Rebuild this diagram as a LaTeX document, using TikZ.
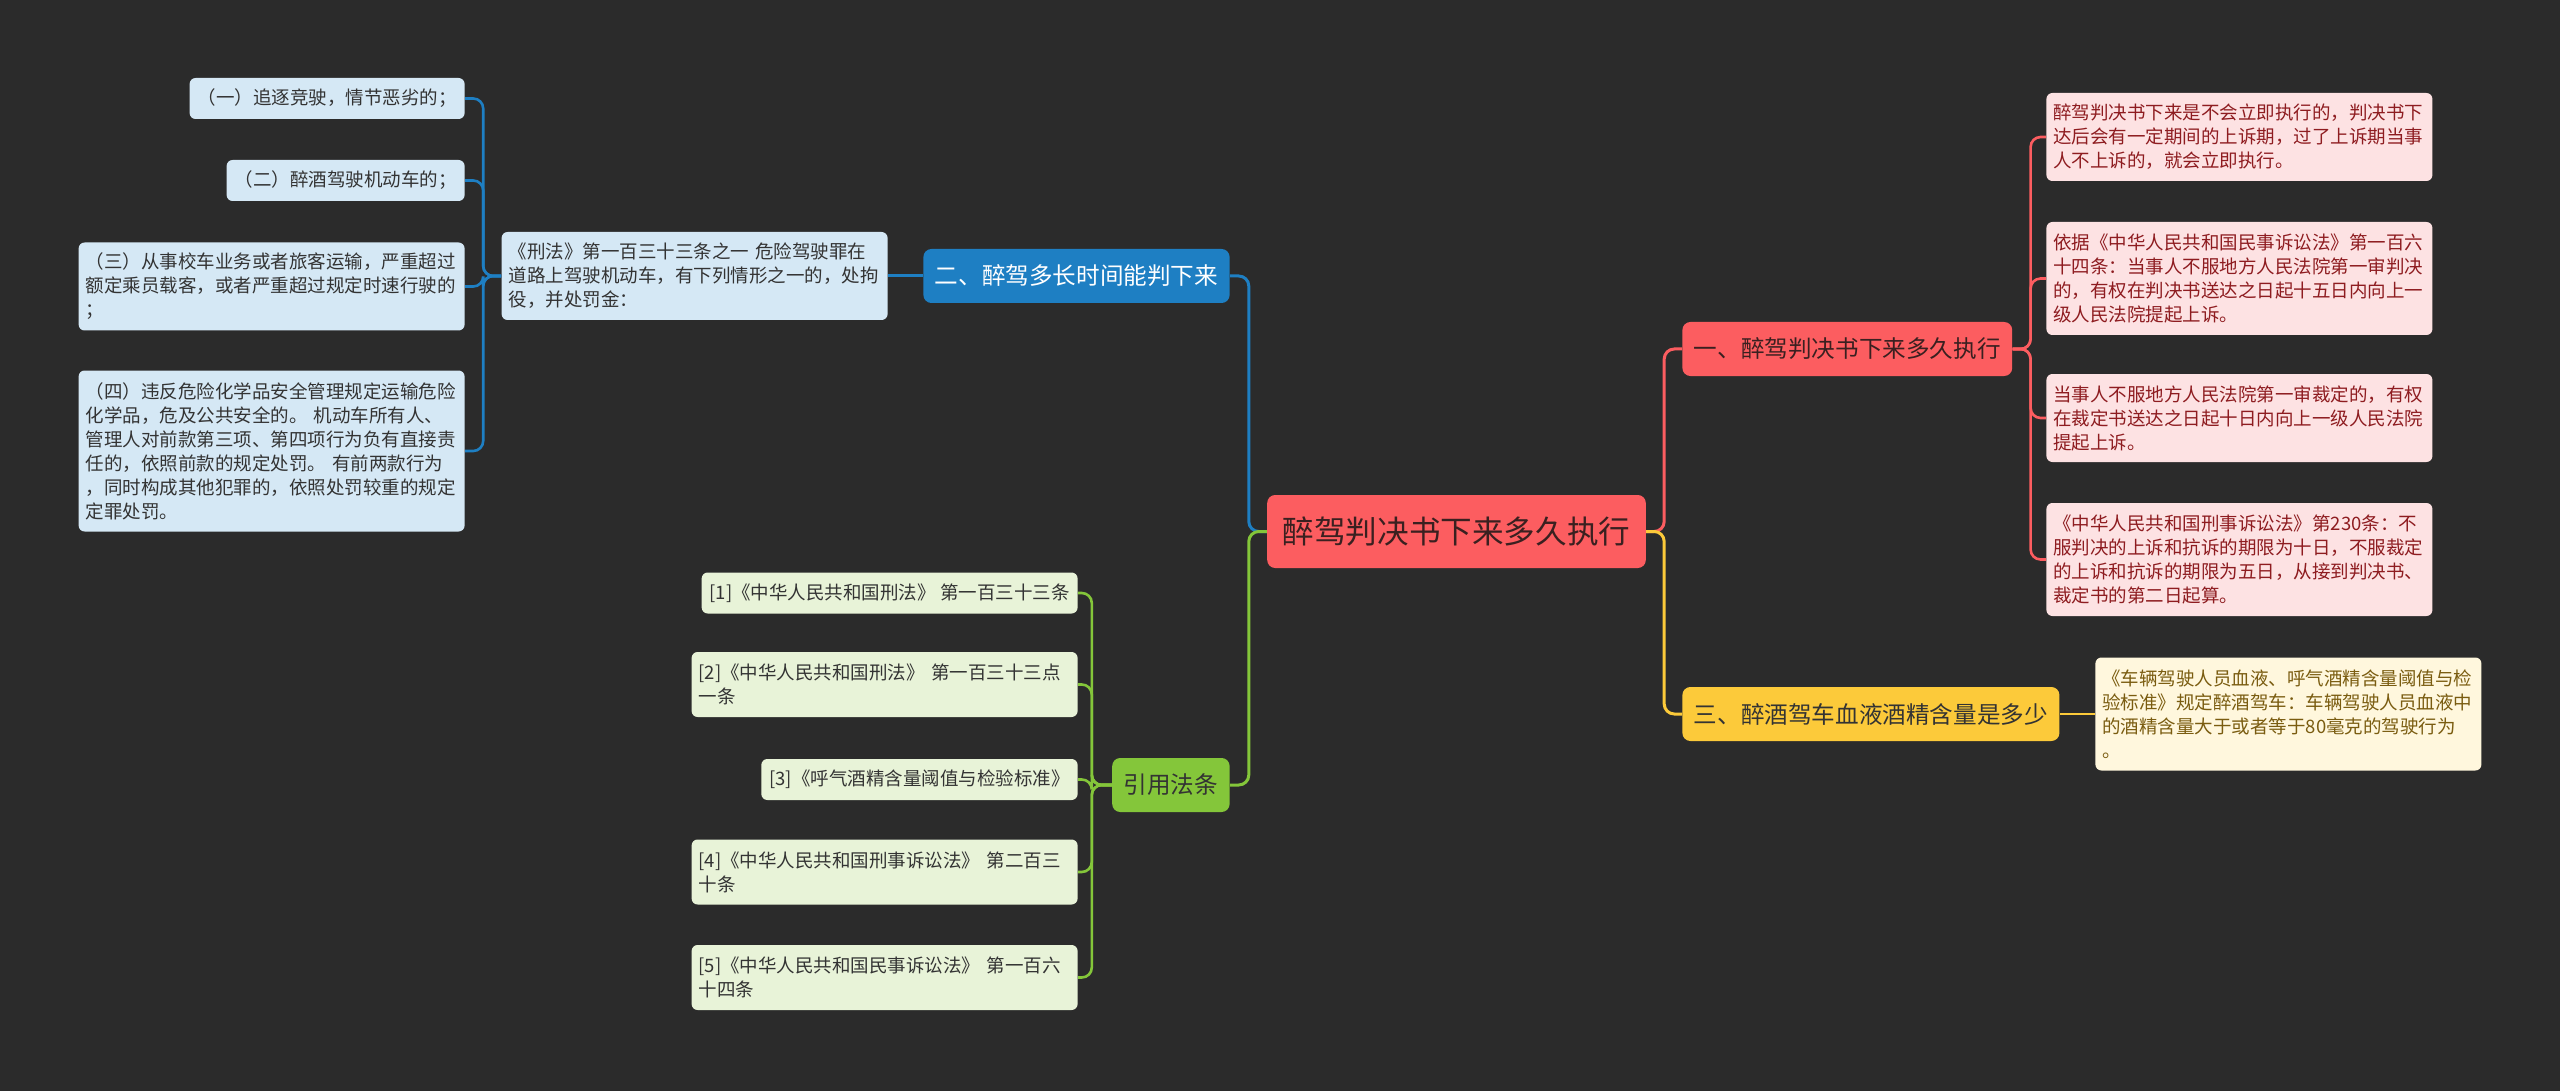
\documentclass[tikz,border=0pt]{standalone}
\usepackage{fontspec}
\newfontfamily\cjk{Noto Sans CJK SC}
\definecolor{bg}{HTML}{2B2B2B}
\definecolor{cred}{HTML}{FC5D60}
\definecolor{cblue}{HTML}{1E7FC3}
\definecolor{cgreen}{HTML}{84C63A}
\definecolor{cyel}{HTML}{FCCA3A}
\definecolor{lblue}{HTML}{D5E8F5}
\definecolor{lpink}{HTML}{FDE2E3}
\definecolor{lyel}{HTML}{FFF7DD}
\definecolor{lgreen}{HTML}{E8F3D8}
\definecolor{dtext}{HTML}{333333}
\definecolor{rtext}{HTML}{3A2020}
\definecolor{ptext}{HTML}{8E1C20}
\definecolor{ytext}{HTML}{7A5C10}
\begin{document}
\begin{tikzpicture}[x=0.5pt,y=-0.5pt,
  base/.style={rounded corners=3pt, inner ysep=0pt, align=left},
  leaftxt/.style={font=\cjk\fontsize{9.25}{12}\selectfont},
  multi/.style={text width=186pt, inner xsep=3.5pt},
  single/.style={inner xsep=4pt},
  ln1/.style={minimum height=20.5pt},
  ln2/.style={minimum height=32.5pt},
  ln3/.style={minimum height=44pt},
  ln4/.style={minimum height=56.5pt},
  ln6/.style={minimum height=80.5pt},
  bleaf/.style={base, leaftxt, fill=lblue, text=dtext},
  pleaf/.style={base, leaftxt, fill=lpink, text=ptext, multi},
  yleaf/.style={base, leaftxt, fill=lyel, text=ytext, multi},
  gleaf/.style={base, leaftxt, fill=lgreen, text=dtext},
  topic/.style={rounded corners=4pt, inner ysep=0pt, inner xsep=5.75pt, minimum height=27pt, font=\cjk\fontsize{11.8}{14}\selectfont},
  conn/.style={line width=1.5pt, rounded corners=5pt},
  conn2/.style={line width=1.3pt, rounded corners=5pt}
]
\fill[bg] (0,0) rectangle (2560,1091);
\useasboundingbox (0,0) rectangle (2560,1091);

% root
\node[rounded corners=4pt, fill=cred, text=rtext, inner xsep=7.75pt, inner ysep=0pt, minimum height=36.5pt, font=\cjk\fontsize{15.8}{18}\selectfont] (root) at (1456.5,531.5) {醉驾判决书下来多久执行};

% main topics
\node[topic, fill=cred, text=rtext, anchor=west] (n1) at (1682,349) {一、醉驾判决书下来多久执行};
\node[topic, fill=cyel, text=dtext, anchor=west] (n3) at (1682,714) {三、醉酒驾车血液酒精含量是多少};
\node[topic, fill=cblue, text=white, anchor=east] (n2) at (1230,276) {二、醉驾多长时间能判下来};
\node[topic, fill=cgreen, text=dtext, anchor=east] (ny) at (1230,785) {引用法条};

% branch two
\node[bleaf, multi, ln3, anchor=east] (xf) at (888,276) {《刑法》第一百三十三条之一 危险驾驶罪在\\道路上驾驶机动车，有下列情形之一的，处拘\\役，并处罚金：};
\node[bleaf, single, ln1, anchor=east] (b1) at (465,98.5) {（一）追逐竞驶，情节恶劣的；};
\node[bleaf, single, ln1, anchor=east] (b2) at (465,180.5) {（二）醉酒驾驶机动车的；};
\node[bleaf, multi, ln3, anchor=east] (b3) at (465,286.5) {（三）从事校车业务或者旅客运输，严重超过\\额定乘员载客，或者严重超过规定时速行驶的\\；};
\node[bleaf, multi, ln6, anchor=east] (b4) at (465,451) {（四）违反危险化学品安全管理规定运输危险\\化学品，危及公共安全的。 机动车所有人、\\管理人对前款第三项、第四项行为负有直接责\\任的，依照前款的规定处罚。 有前两款行为\\，同时构成其他犯罪的，依照处罚较重的规定\\定罪处罚。};

% branch one
\node[pleaf, ln3, anchor=west] (p1) at (2046,137) {醉驾判决书下来是不会立即执行的，判决书下\\达后会有一定期间的上诉期，过了上诉期当事\\人不上诉的，就会立即执行。};
\node[pleaf, ln4, anchor=west] (p2) at (2046,278.5) {依据《中华人民共和国民事诉讼法》第一百六\\十四条：当事人不服地方人民法院第一审判决\\的，有权在判决书送达之日起十五日内向上一\\级人民法院提起上诉。};
\node[pleaf, ln3, anchor=west] (p3) at (2046,418) {当事人不服地方人民法院第一审裁定的，有权\\在裁定书送达之日起十日内向上一级人民法院\\提起上诉。};
\node[pleaf, ln4, anchor=west] (p4) at (2046,559.5) {《中华人民共和国刑事诉讼法》第230条：不\\服判决的上诉和抗诉的期限为十日，不服裁定\\的上诉和抗诉的期限为五日，从接到判决书、\\裁定书的第二日起算。};

% branch three
\node[yleaf, ln4, anchor=west] (yl) at (2095,714) {《车辆驾驶人员血液、呼气酒精含量阈值与检\\验标准》规定醉酒驾车：车辆驾驶人员血液中\\的酒精含量大于或者等于80毫克的驾驶行为\\。};

% citations
\node[gleaf, single, ln1, anchor=east] (g1) at (1078,593) {[1]《中华人民共和国刑法》 第一百三十三条};
\node[gleaf, multi, ln2, anchor=east] (g2) at (1078,684.5) {[2]《中华人民共和国刑法》 第一百三十三点\\一条};
\node[gleaf, single, ln1, anchor=east] (g3) at (1078,779.5) {[3]《呼气酒精含量阈值与检验标准》};
\node[gleaf, multi, ln2, anchor=east] (g4) at (1078,872) {[4]《中华人民共和国刑事诉讼法》 第二百三\\十条};
\node[gleaf, multi, ln2, anchor=east] (g5) at (1078,977.5) {[5]《中华人民共和国民事诉讼法》 第一百六\\十四条};

% connectors
\draw[conn, cred] (root.east) -- ++(18,0) |- (n1.west);
\draw[conn, cyel] (root.east) -- ++(18,0) |- (n3.west);
\draw[conn, cblue] (root.west) -- ++(-18,0) |- (n2.east);
\draw[conn, cgreen] (root.west) -- ++(-18,0) |- (ny.east);
\draw[conn, cblue] (n2.west) -- (xf.east);
\foreach \t in {b1,b2,b3,b4} \draw[conn2, cblue] (xf.west) -- ++(-18,0) |- (\t.east);
\foreach \t in {p1,p2,p3,p4} \draw[conn2, cred] (n1.east) -- ++(18,0) |- (\t.west);
\draw[conn2, cyel] (n3.east) -- (yl.west);
\foreach \t in {g1,g2,g3,g4,g5} \draw[conn2, cgreen] (ny.west) -- ++(-20,0) |- (\t.east);
\end{tikzpicture}
\end{document}
